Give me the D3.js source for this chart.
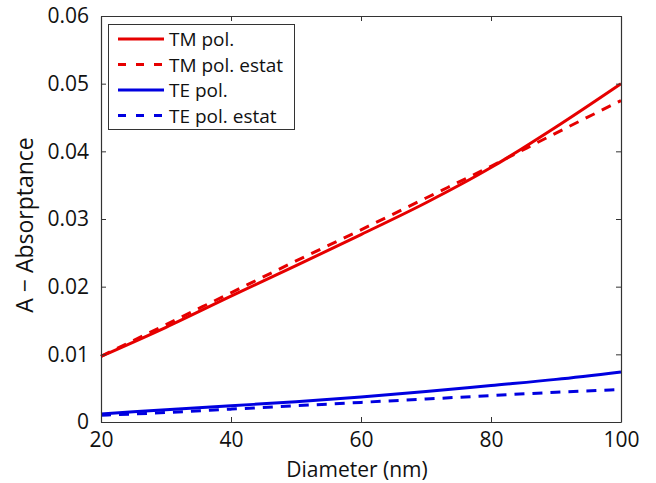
<!DOCTYPE html>
<html><head><meta charset="utf-8">
<script src="https://cdn.jsdelivr.net/npm/d3@7"></script>
<style>body{margin:0;background:#fff;} svg{display:block;} text{font-family:"Open Sans",sans-serif;fill:#111;}</style>
</head><body>
<script>
const diameters = [20, 30, 40, 50, 60, 70, 80, 90, 100];
const tmPol      = [0.0097, 0.0140, 0.0186, 0.0231, 0.0277, 0.0324, 0.0376, 0.0436, 0.0500];
const tmPolEstat = [0.0097, 0.0144, 0.0191, 0.0238, 0.0284, 0.0331, 0.0378, 0.0427, 0.0475];
const tePol      = [0.0012, 0.0018, 0.0024, 0.0030, 0.0037, 0.0045, 0.0054, 0.0063, 0.0074];
const tePolEstat = [0.0010, 0.0014, 0.0019, 0.0024, 0.0029, 0.0034, 0.0039, 0.0044, 0.0048];
const xTicks = [20, 40, 60, 80, 100];
const yTicks = [0, 0.01, 0.02, 0.03, 0.04, 0.05, 0.06];
const seriesNames = ["TM pol.", "TM pol. estat", "TE pol.", "TE pol. estat"];

const W = 656, H = 483;
const m = {left: 101, right: 35, top: 16, bottom: 61};
const svg = d3.select("body").append("svg").attr("width", W).attr("height", H);
const x = d3.scaleLinear().domain([20, 100]).range([m.left, W - m.right]);
const y = d3.scaleLinear().domain([0, 0.06]).range([H - m.bottom, m.top]);

const red = "#e60000", blue = "#0000e0";
const series = [
  {name: seriesNames[0], vals: tmPol, color: red, dash: null},
  {name: seriesNames[1], vals: tmPolEstat, color: red, dash: "10,8"},
  {name: seriesNames[2], vals: tePol, color: blue, dash: null},
  {name: seriesNames[3], vals: tePolEstat, color: blue, dash: "10,8"}
];

const line = d3.line().x((d, i) => x(diameters[i])).y(d => y(d)).curve(d3.curveMonotoneX);
series.forEach(s => {
  svg.append("path").attr("d", line(s.vals)).attr("fill", "none")
    .attr("stroke", s.color).attr("stroke-width", 3)
    .attr("stroke-dasharray", s.dash);
});

// axes box with inward ticks
const axColor = "#333";
const fmtY = d => d === 0 ? "0" : d3.format(".2f")(d);
const gB = svg.append("g").attr("transform", `translate(0,${y(0)})`)
  .call(d3.axisBottom(x).tickValues(xTicks).tickSizeInner(-5).tickSizeOuter(0).tickPadding(10));
const gT = svg.append("g").attr("transform", `translate(0,${y(0.06)})`)
  .call(d3.axisTop(x).tickValues(xTicks).tickSizeInner(-5).tickSizeOuter(0).tickFormat(""));
const gL = svg.append("g").attr("transform", `translate(${x(20)},0)`)
  .call(d3.axisLeft(y).tickValues(yTicks).tickSizeInner(-5).tickSizeOuter(0).tickPadding(12).tickFormat(fmtY));
const gR = svg.append("g").attr("transform", `translate(${x(100)},0)`)
  .call(d3.axisRight(y).tickValues(yTicks).tickSizeInner(-5).tickSizeOuter(0).tickFormat(""));
[gB, gT, gL, gR].forEach(g => {
  g.select(".domain").attr("stroke", axColor).attr("stroke-width", 1.2);
  g.selectAll(".tick line").attr("stroke", axColor);
  g.selectAll("text").style("font-family", "'Open Sans',sans-serif").style("font-size", "21px").attr("fill", "#111");
});

// axis labels
svg.append("text").attr("x", 357).attr("y", 476.5).attr("text-anchor", "middle")
  .style("font-size", "21px").text("Diameter (nm)");
svg.append("text").attr("transform", `translate(33,225) rotate(-90)`)
  .attr("text-anchor", "middle").style("font-size", "23px").text("A \u2212 Absorptance");

// legend
const lg = svg.append("g");
lg.append("rect").attr("x", 108.5).attr("y", 24.5).attr("width", 186).attr("height", 105)
  .attr("fill", "#fff").attr("stroke", axColor).attr("stroke-width", 1);
series.forEach((s, i) => {
  const yy = 39 + i * 25.5;
  lg.append("line").attr("x1", 118).attr("x2", 164).attr("y1", yy).attr("y2", yy)
    .attr("stroke", s.color).attr("stroke-width", 3).attr("stroke-dasharray", s.dash ? "8,10" : null);
  lg.append("text").attr("x", 169).attr("y", yy + 7).style("font-size", "19px").text(s.name);
});
</script>
</body></html>
